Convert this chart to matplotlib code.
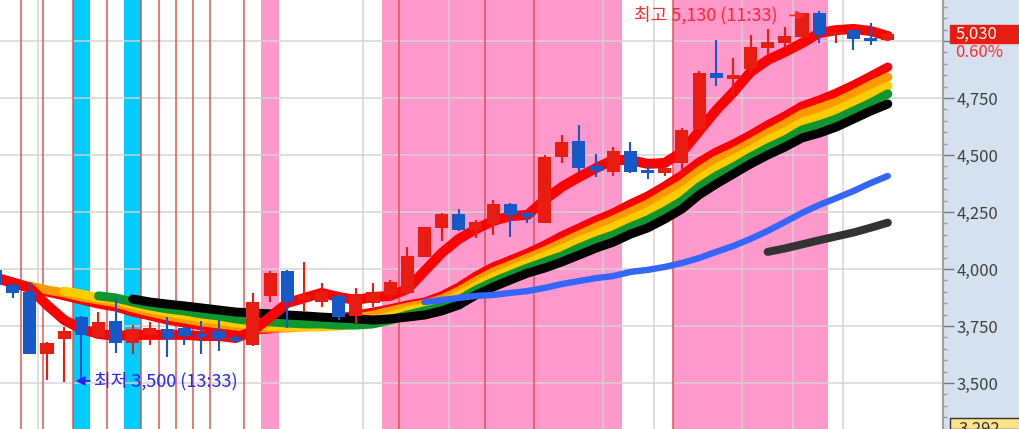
import numpy as np
import matplotlib
matplotlib.use('Agg')
import matplotlib.pyplot as plt
from matplotlib.patches import Rectangle
from matplotlib.transforms import blended_transform_factory, offset_copy
from matplotlib.ticker import MultipleLocator, FuncFormatter

plt.rcParams['font.family'] = ['Noto Sans CJK KR', 'DejaVu Sans']

nan = np.nan

# candles, oldest first (red = up, blue = down)
opens = [3996, 3930, 3899, 3627, 3693, 3789, 3702, 3772, 3675, 3711,
         3737, 3741, 3715, 3728, 3702, 3667, 3882, 3991, 3865, 3855,
         3882, 3794, 3851, 3886, 3895, 4053, 4180, 4241, 4171, 4197,
         4285, 4246, 4202, 4491, 4561, 4452, 4425, 4518, 4434, 4421,
         4465, 4614, 4860, 4833, 4877, 4969, 4991, 5018, 5123, 5030,
         5048, 5013, 5004]
highs = [4000, 3940, 3943, 3680, 3746, 3795, 3811, 3873, 3754, 3768,
         3789, 3750, 3772, 3776, 3706, 3895, 3991, 3995, 4031, 3939,
         3890, 3917, 3939, 3950, 4096, 4184, 4245, 4263, 4215, 4303,
         4290, 4250, 4500, 4588, 4632, 4504, 4535, 4557, 4456, 4447,
         4618, 4868, 5004, 4925, 5026, 5053, 5061, 5125, 5130, 5057,
         5050, 5079, 5035]
lows = [3920, 3873, 3627, 3513, 3505, 3500, 3695, 3632, 3627, 3667,
        3614, 3667, 3627, 3640, 3675, 3660, 3855, 3741, 3811, 3833,
        3776, 3763, 3833, 3864, 3890, 4053, 4123, 4165, 4136, 4149,
        4140, 4202, 4200, 4465, 4425, 4404, 4408, 4421, 4395, 4408,
        4412, 4610, 4803, 4763, 4860, 4939, 4969, 5010, 4991, 4991,
        4961, 4982, 5000]
closes = [3930, 3895, 3627, 3675, 3728, 3711, 3768, 3675, 3737, 3741,
          3693, 3706, 3702, 3693, 3684, 3855, 3982, 3855, 3880, 3899,
          3789, 3890, 3899, 3943, 4057, 4184, 4241, 4171, 4206, 4285,
          4237, 4228, 4491, 4557, 4443, 4430, 4518, 4425, 4421, 4443,
          4610, 4860, 4838, 4851, 4974, 4996, 5022, 5123, 5026, 5040,
          5009, 5000, 5030]

# moving averages
ma_fast = [3960, 3939, 3917, 3842, 3776, 3737, 3715, 3706, 3711, 3711,
           3711, 3711, 3706, 3706, 3697, 3728, 3789, 3851, 3873, 3895,
           3877, 3864, 3877, 3882, 3912, 3991, 4070, 4132, 4175, 4211,
           4232, 4237, 4303, 4360, 4403, 4443, 4478, 4478, 4461, 4465,
           4513, 4605, 4697, 4776, 4864, 4917, 4952, 4991, 5035, 5048,
           5053, 5044, 5022]
ma_red = [3965, 3943, 3921, 3899, 3882, 3864, 3846, 3833, 3811, 3794,
          3776, 3763, 3750, 3741, 3732, 3732, 3737, 3746, 3759, 3772,
          3785, 3798, 3811, 3825, 3842, 3855, 3882, 3921, 3969, 4009,
          4039, 4070, 4105, 4145, 4180, 4215, 4246, 4285, 4320, 4364,
          4412, 4469, 4513, 4548, 4588, 4632, 4671, 4715, 4741, 4772,
          4807, 4846, 4886]
ma_orange = [nan, nan, 3925, 3908, 3895, 3877, 3864, 3851, 3829, 3811,
             3794, 3781, 3768, 3759, 3750, 3741, 3741, 3741, 3746, 3754,
             3768, 3785, 3798, 3816, 3833, 3846, 3868, 3903, 3947, 3987,
             4017, 4048, 4079, 4114, 4149, 4184, 4215, 4250, 4285, 4329,
             4373, 4430, 4478, 4513, 4553, 4596, 4636, 4680, 4706, 4732,
             4768, 4807, 4842]
ma_yellow = [nan, nan, nan, nan, 3903, 3890, 3873, 3864, 3842, 3825,
             3811, 3798, 3785, 3776, 3763, 3754, 3750, 3746, 3746, 3746,
             3750, 3759, 3772, 3794, 3816, 3833, 3851, 3882, 3925, 3965,
             3996, 4026, 4057, 4088, 4123, 4153, 4184, 4219, 4250, 4294,
             4338, 4395, 4443, 4482, 4522, 4566, 4601, 4645, 4667, 4697,
             4732, 4768, 4803]
ma_green = [nan, nan, nan, nan, nan, nan, 3882, 3873, 3855, 3838,
            3825, 3816, 3803, 3794, 3781, 3772, 3768, 3763, 3759, 3759,
            3754, 3754, 3759, 3776, 3798, 3816, 3833, 3864, 3908, 3943,
            3974, 4004, 4031, 4057, 4092, 4123, 4149, 4184, 4215, 4254,
            4298, 4360, 4408, 4447, 4491, 4531, 4566, 4610, 4632, 4658,
            4693, 4728, 4768]
ma_black = [nan, nan, nan, nan, nan, nan, nan, nan, 3868, 3855,
            3846, 3838, 3829, 3820, 3811, 3807, 3803, 3798, 3794, 3789,
            3785, 3781, 3776, 3781, 3789, 3798, 3816, 3842, 3886, 3921,
            3952, 3982, 4004, 4031, 4061, 4092, 4118, 4153, 4180, 4219,
            4263, 4325, 4373, 4417, 4461, 4500, 4535, 4575, 4596, 4623,
            4658, 4693, 4724]
ma_blue = [nan] * 25 + [3855, 3864, 3873, 3882, 3886,
                        3895, 3903, 3917, 3934, 3947, 3960, 3969, 3987, 3996, 4009,
                        4026, 4048, 4075, 4101, 4132, 4167, 4206, 4246, 4281, 4311,
                        4342, 4377, 4408]
ma_grey = [nan] * 45 + [4075, 4090, 4108, 4126, 4143, 4160, 4181, 4203]

# background marks (bar index)
cyan_bars = [5, 8]
pink_spans = [(16, 16), (23, 36), (40, 48)]
signal_lines = [1.5, 2.75, 4.5, 6.5, 8.5, 9.5, 10.5, 11.5, 12.5, 14.5,
                23.5, 28.5, 31.4, 39.5]
time_grid = [2.5, 21.4, 26.4, 35.4, 38.4, 43.5, 46.5, 49.4]

hi_label = '최고 5,130 (11:33)'
lo_label = '최저 3,500 (13:33)'
chg_label = '0.60%'
bottom_label = '3,292'

UP = '#e81c10'
DOWN = '#1558c8'

fig = plt.figure(figsize=(10.2, 4.29), dpi=100, facecolor='#d6e1ef')
ax = fig.add_axes([0, 0, 943 / 1020, 1])
ax.set_facecolor('white')

x = np.arange(len(opens))
o = np.array(opens, float)
c = np.array(closes, float)
h = np.array(highs, float)
l = np.array(lows, float)

# bands and vertical lines
for b in cyan_bars:
    ax.axvspan(b - 0.5, b + 0.5, color='#00ccff', lw=0, zorder=0)
for a, b in pink_spans:
    ax.axvspan(a - 0.5, b + 0.5, color='#ff99cc', lw=0, zorder=0)
for g in np.arange(3500, 5001, 250):
    ax.axhline(g, color='#d2d2d2', lw=1.2, alpha=0.85, zorder=1)
for t in time_grid:
    ax.axvline(t, color='#d2d2d2', lw=1.2, alpha=0.85, zorder=1)
for s in signal_lines:
    ax.axvline(s, color='#e04a4a', lw=1.2, alpha=0.85, zorder=1.5)

# moving averages
kw = dict(solid_capstyle='round', solid_joinstyle='round')
for vals, col in [(ma_red, '#ff0000'), (ma_orange, '#ff9900'),
                  (ma_yellow, '#ffcc00'), (ma_green, '#10962e'),
                  (ma_black, '#000000')]:
    ax.plot(x, vals, color=col, lw=6.5, zorder=2, **kw)
ax.plot(x, ma_blue, color='#3366ff', lw=4.6, zorder=2.5, **kw)
ax.plot(x, ma_grey, color='#333333', lw=5.8, zorder=2.5, **kw)
ax.plot(x, ma_fast, color='#ff0000', lw=7.2, zorder=3, **kw)

# candles
colors = np.where(c >= o, UP, DOWN)
ax.vlines(x, l, h, colors=colors, lw=1.5, zorder=4)
body = np.maximum(np.abs(c - o), 8)
ax.bar(x, body, bottom=np.minimum(o, c), width=0.76, color=colors, lw=0, zorder=4.5)

ax.set_xlim(0.262, 55.216)
ax.set_ylim(3298, 5180)

# high / low markers
imax = int(np.argmax(h))
imin = int(np.argmin(l))
hi_tr = offset_copy(ax.transData, fig=fig, y=-4, units='dots')
ax.annotate('', xy=(imax - 0.65, h[imax]), xycoords=hi_tr,
            xytext=(-21, 0), textcoords='offset pixels',
            arrowprops=dict(arrowstyle='-|>', color='#ff2a2a', lw=1.3, mutation_scale=13), zorder=6)
ax.annotate(hi_label, xy=(imax - 0.65, h[imax]), xycoords=hi_tr,
            xytext=(-30, 0), textcoords='offset pixels', ha='right', va='center',
            color='#ff2a2a', fontsize=13, zorder=6)
lo_tr = offset_copy(ax.transData, fig=fig, y=2, units='dots')
ax.annotate('', xy=(imin - 0.5, l[imin]), xycoords=lo_tr,
            xytext=(20, 0), textcoords='offset pixels',
            arrowprops=dict(arrowstyle='-|>', color='#2424ff', lw=1.3, mutation_scale=13), zorder=6)
ax.annotate(lo_label, xy=(imin - 0.5, l[imin]), xycoords=lo_tr,
            xytext=(21, 0), textcoords='offset pixels', ha='left', va='center',
            color='#2424ff', fontsize=13, zorder=6)

# right price axis
for side in ['top', 'left', 'bottom']:
    ax.spines[side].set_visible(False)
ax.spines['right'].set_color('#a0a0a0')
ax.spines['right'].set_linewidth(1.5)
ax.set_xticks([])
ax.yaxis.tick_right()
ax.yaxis.set_major_locator(MultipleLocator(250))
ax.yaxis.set_minor_locator(MultipleLocator(50))
ax.yaxis.set_major_formatter(FuncFormatter(lambda v, p: f'{v:,.0f}' if v < 5000 else ''))
ax.tick_params(axis='y', which='major', length=8, width=1, color='#777777',
               pad=2, labelsize=12, labelcolor='#404040')
ax.tick_params(axis='y', which='minor', length=3, width=1, color='#999999')

# current price box
last = c[-1]
bt = blended_transform_factory(ax.transAxes, ax.transData)
ax.add_patch(Rectangle((1.0074, last - 40), 0.08, 80, transform=bt,
                       color='#e81c10', clip_on=False, zorder=6))
ax.text(1.013, last, f'{last:,.0f}', transform=bt, color='white',
        fontsize=12, va='center', ha='left', zorder=7, clip_on=False)
ax.annotate(chg_label, xy=(1.013, last), xycoords=bt, xytext=(0, -18),
            textcoords='offset pixels', color='#ff2a2a', fontsize=12,
            va='center', ha='left', annotation_clip=False)

# bottom box (cut by the lower edge, as in the source screen)
fig.patches.append(Rectangle((950 / 1020, 0), 70 / 1020, 11 / 429, transform=fig.transFigure,
                             facecolor='#ffe38a', edgecolor='#333333', lw=1, zorder=5))
fig.text(958 / 1020, 1 - 434 / 429, bottom_label, color='#333333', fontsize=12,
         va='baseline', ha='left', zorder=6)

fig.savefig('out.png', dpi=100)
